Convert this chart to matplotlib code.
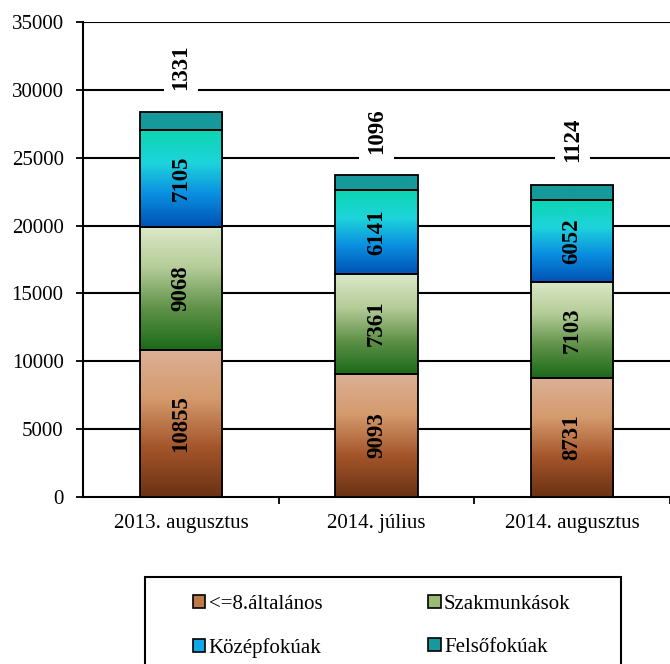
import matplotlib.pyplot as plt
import numpy as np
from matplotlib.colors import LinearSegmentedColormap
from matplotlib.patches import Patch, Rectangle

plt.rcParams['font.family'] = ['Liberation Serif', 'DejaVu Serif']

categories = ['2013. augusztus', '2014. július', '2014. augusztus']
series_names = ['<=8.általános', 'Szakmunkások', 'Középfokúak', 'Felsőfokúak']
alt = [10855, 9093, 8731]
szak = [9068, 7361, 7103]
kozep = [7105, 6141, 6052]
felso = [1331, 1096, 1124]
series = [alt, szak, kozep, felso]

# gradient colours, bottom -> top
grads = [
    ['#6a3214', '#a4552a', '#d49a6c', '#dcb096'],
    ['#1c6a1a', '#5f9248', '#b4cc98', '#dce8c8'],
    ['#0052b4', '#0a8ee0', '#1ed4dc', '#0cd4b0'],
    ['#16999a', '#16999a'],
]
mid_cols = ['#c07848', '#98bc78', '#10a8e8', '#16999a']

fig = plt.figure(figsize=(6.7, 6.64), dpi=100)
ax = fig.add_axes([0.124, 0.2515, 0.876, 0.7155])

x = np.arange(len(categories))
w = 0.42
bottom = np.zeros(len(categories))
for si, vals in enumerate(series):
    cmap = LinearSegmentedColormap.from_list('g%d' % si, grads[si])
    for i in range(len(categories)):
        b, v = bottom[i], vals[i]
        rect = Rectangle((x[i] - w / 2, b), w, v, facecolor='none',
                         edgecolor='black', linewidth=1.3, zorder=4)
        ax.add_patch(rect)
        img = ax.imshow(np.linspace(0, 1, 100).reshape(-1, 1), cmap=cmap,
                        origin='lower', aspect='auto',
                        extent=(x[i] - w / 2, x[i] + w / 2, b, b + v), zorder=3)
        img.set_clip_path(rect)
        if si < 3:
            ax.text(x[i], b + v / 2, str(v), rotation=90, ha='center', va='center',
                    fontsize=16.5, fontweight='bold', zorder=5)
        else:
            ax.annotate(str(v), (x[i], b + v), xytext=(0, 32), textcoords='offset points',
                        rotation=90, ha='center', va='center', fontsize=16.5,
                        fontweight='bold', zorder=5,
                        bbox=dict(facecolor='white', edgecolor='none', pad=5))
    bottom += np.array(vals)

ax.set_xlim(-0.5, 2.5)
ax.set_ylim(0, 35000)
ax.set_yticks(np.arange(0, 35001, 5000))
ax.set_xticks([0.5, 1.5, 2.5])
ax.set_xticklabels([])
ax.set_xticks(x, minor=True)
ax.set_xticklabels(categories, minor=True, fontsize=15)
ax.tick_params(axis='x', which='minor', length=0, pad=12)
ax.tick_params(axis='x', which='major', direction='out', length=5, width=1.3)
ax.tick_params(axis='y', direction='out', length=5, width=1.3, labelsize=15, pad=9)
for yv in np.arange(5000, 35001, 5000):
    ax.axhline(yv, color='black', linewidth=1.5, zorder=1)
ax.spines['top'].set_visible(False)
ax.spines['right'].set_visible(False)
ax.spines['left'].set_linewidth(1.5)
ax.spines['bottom'].set_linewidth(1.5)

# legend: row-major order like the reference (matplotlib fills by column)
handles = [Patch(facecolor=c, edgecolor='black', linewidth=1.2) for c in mid_cols]
order = [0, 2, 1, 3]
leg = fig.legend([handles[k] for k in order], [series_names[k] for k in order],
                 ncol=2, loc='upper left', bbox_to_anchor=(0.288, 0.104),
                 fontsize=15, frameon=False,
                 handlelength=0.6, handleheight=0.6, handletextpad=0.15,
                 columnspacing=5.1, labelspacing=1.15, borderpad=0, borderaxespad=0)
fig.patches.append(Rectangle((0.2164, -0.01), 0.7104, 0.141, transform=fig.transFigure,
                             facecolor='none', edgecolor='black', linewidth=1.5))

fig.savefig('out.png', dpi=100)
